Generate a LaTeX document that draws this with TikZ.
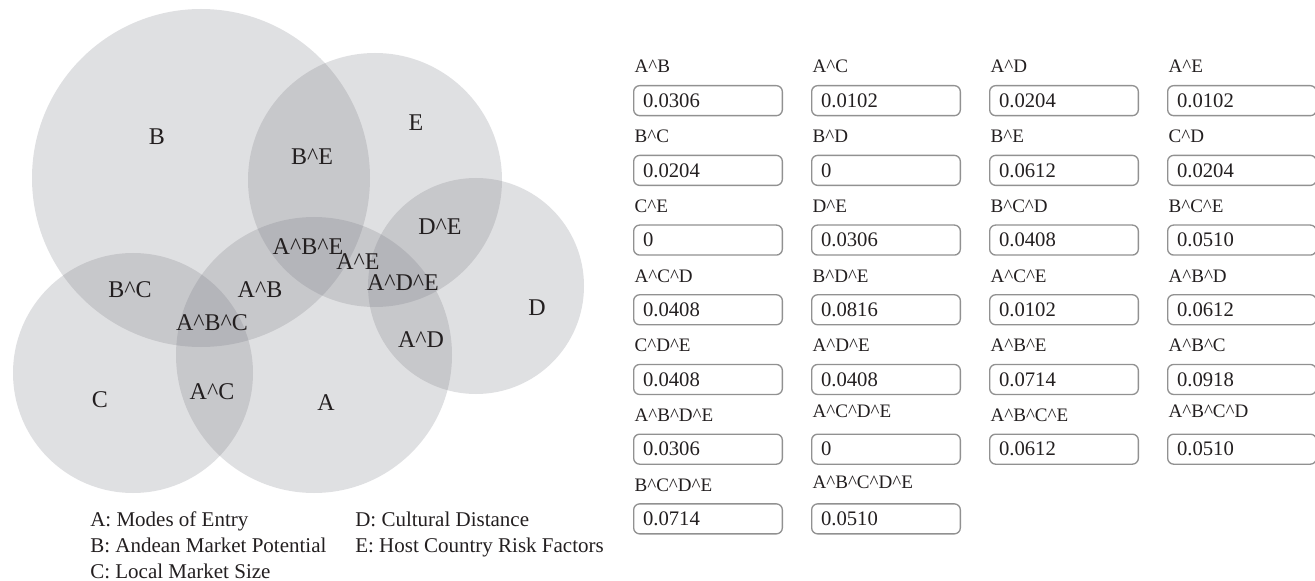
\documentclass[tikz,border=0pt]{standalone}
\usepackage{fontspec}
\setmainfont{Liberation Serif}
\definecolor{vennfill}{RGB}{118,120,128}
\definecolor{boxline}{RGB}{145,145,145}
\definecolor{ink}{RGB}{35,31,32}
\newcommand{\ct}{\textasciicircum}
\begin{document}
\begin{tikzpicture}[x=0.75pt, y=-0.75pt, text=ink,
    venn/.style={fill=vennfill, fill opacity=0.23},
    reg/.style={inner sep=0pt, font=\fontsize{18}{18}\selectfont},
    key/.style={anchor=base west, inner sep=0pt, font=\fontsize{15.75}{16}\selectfont},
    head/.style={anchor=base west, inner sep=0pt, font=\fontsize{14.3}{14}\selectfont},
    valbox/.style={draw=boxline, line width=1pt, rounded corners=4.5pt, anchor=north west,
      minimum height=22.5pt, text width=97.5pt, inner xsep=7pt, align=left,
      font=\fontsize{15.5}{15.5}\selectfont}]
  \useasboundingbox (0,0) rectangle (1315,581);
  % the five sets
  \fill[venn] (201,178) circle[radius=126.75pt];
  \fill[venn] (375,180) circle[radius=95.25pt];
  \fill[venn] (476,286) circle[radius=81pt];
  \fill[venn] (133,373) circle[radius=90pt];
  \fill[venn] (314,355) circle[radius=103.5pt];
  % region names
  \node[reg] (rB) at (157,137) {B};
  \node[reg] (rE) at (416,123) {E};
  \node[reg] (rBE) at (312,157) {B\ct E};
  \node[reg] (rDE) at (440,227) {D\ct E};
  \node[reg] (rABE) at (308,247) {A\ct B\ct E};
  \node[reg] (rAE) at (358,262) {A\ct E};
  \node[reg] (rADE) at (403,283) {A\ct D\ct E};
  \node[reg] (rBC) at (130,290) {B\ct C};
  \node[reg] (rAB) at (260,290) {A\ct B};
  \node[reg] (rABC) at (212,323) {A\ct B\ct C};
  \node[reg] (rD) at (537,308) {D};
  \node[reg] (rAD) at (421,340) {A\ct D};
  \node[reg] (rC) at (100,400) {C};
  \node[reg] (rAC) at (212,392) {A\ct C};
  \node[reg] (rA) at (326,403) {A};
  % key
  \node[key] (kA) at (90,526) {A: Modes of Entry};
  \node[key] (kB) at (90,552) {B: Andean Market Potential};
  \node[key] (kC) at (90,578) {C: Local Market Size};
  \node[key] (kD) at (355,526) {D: Cultural Distance};
  \node[key] (kE) at (355,552) {E: Host Country Risk Factors};
  % intersection values
  \foreach \c/\r/\up/\lab/\val in {
      1/1/0/A\ct B/0.0306, 2/1/0/A\ct C/0.0102, 3/1/0/A\ct D/0.0204, 4/1/0/A\ct E/0.0102,
      1/2/0/B\ct C/0.0204, 2/2/0/B\ct D/0, 3/2/0/B\ct E/0.0612, 4/2/0/C\ct D/0.0204,
      1/3/0/C\ct E/0, 2/3/0/D\ct E/0.0306, 3/3/0/B\ct C\ct D/0.0408, 4/3/0/B\ct C\ct E/0.0510,
      1/4/0/A\ct C\ct D/0.0408, 2/4/0/B\ct D\ct E/0.0816, 3/4/0/A\ct C\ct E/0.0102, 4/4/0/A\ct B\ct D/0.0612,
      1/5/0/C\ct D\ct E/0.0408, 2/5/0/A\ct D\ct E/0.0408, 3/5/0/A\ct B\ct E/0.0714, 4/5/0/A\ct B\ct C/0.0918,
      1/6/0/A\ct B\ct D\ct E/0.0306, 2/6/3/A\ct C\ct D\ct E/0, 3/6/0/A\ct B\ct C\ct E/0.0612, 4/6/3/A\ct B\ct C\ct D/0.0510,
      1/7/0/B\ct C\ct D\ct E/0.0714, 2/7/2/A\ct B\ct C\ct D\ct E/0.0510} {
    \node[valbox] (v\r\c) at ({633+178*(\c-1)},{85+69.7*(\r-1)}) {\val};
    \node[head] (h\r\c) at ([xshift=1pt,yshift={9pt+\up pt}]v\r\c.north west) {\lab};
  }
\end{tikzpicture}
\end{document}
